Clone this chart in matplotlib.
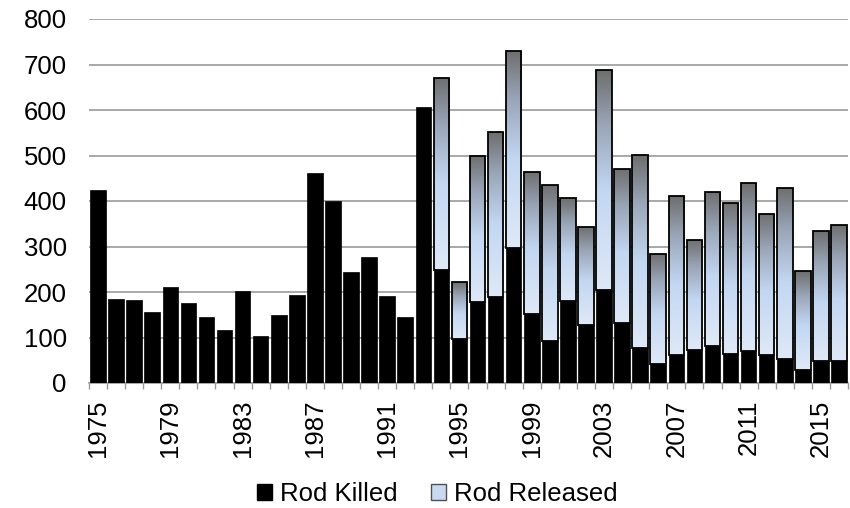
import numpy as np
import matplotlib
matplotlib.use("Agg")
import matplotlib.pyplot as plt
from matplotlib.colors import LinearSegmentedColormap
from matplotlib.patches import Rectangle

plt.rcParams['font.family'] = ['Liberation Sans', 'DejaVu Sans']

years = list(range(1975, 2017))
rod_killed = [425, 185, 182, 156, 210, 175, 145, 117, 203, 103, 150, 194, 462, 400,
              244, 278, 191, 145, 606, 248, 96, 177, 190, 296, 151, 92, 181, 127,
              205, 132, 78, 41, 61, 72, 81, 63, 70, 62, 53, 29, 49, 48]
rod_total = [425, 185, 182, 156, 210, 175, 145, 117, 203, 103, 150, 194, 462, 400,
             244, 278, 191, 145, 606, 670, 221, 499, 552, 729, 464, 435, 406, 343,
             688, 471, 502, 284, 410, 315, 420, 396, 439, 372, 429, 246, 333, 347]
rod_released = [t - k for t, k in zip(rod_total, rod_killed)]
tick_years = [1975, 1979, 1983, 1987, 1991, 1995, 1999, 2003, 2007, 2011, 2015]
series_names = ['Rod Killed', 'Rod Released']

fig = plt.figure(figsize=(8.5, 5.08), dpi=100)
ax = fig.add_axes([89/850, 1 - 383/508, (848-89)/850, (383-19)/508])

x = np.arange(len(years))
w = 0.86

cmap = LinearSegmentedColormap.from_list(
    'grad', [(0.0, '#dfe9f7'), (0.45, '#c3d7f2'), (0.75, '#9aa6b8'), (1.0, '#6e6e6e')])

ax.bar(x, rod_killed, width=w, color='black', edgecolor='black', linewidth=0.5, zorder=3)

grad = np.linspace(0, 1, 256).reshape(-1, 1)
rel_bars = ax.bar(x, rod_released, width=w, bottom=rod_killed, facecolor='none',
                  edgecolor='black', linewidth=1.3, zorder=4)
for xi, b, r, bar in zip(x, rod_killed, rod_released, rel_bars):
    if r <= 0:
        bar.set_visible(False)
        continue
    im = ax.imshow(grad, cmap=cmap, origin='lower', aspect='auto',
                   extent=[xi - w/2, xi + w/2, b, b + r], zorder=3.5,
                   interpolation='bilinear')
    im.set_clip_path(bar)

ax.set_xlim(-0.5, len(years) - 0.5)
ax.set_ylim(0, 800)
ax.set_yticks(np.arange(0, 801, 100))
ax.yaxis.grid(True, color='#9a9a9a', linewidth=1.2, zorder=0)
ax.set_axisbelow(True)

fs = 18.5
ax.set_xticks([years.index(y) for y in tick_years])
ax.set_xticklabels([str(y) for y in tick_years], rotation=90)
ax.set_xticks(np.arange(-0.5, len(years), 1), minor=True)
ax.tick_params(axis='x', which='major', length=0, pad=12, labelsize=fs)
ax.tick_params(axis='x', which='minor', length=4, color='#9a9a9a', width=1)
ax.tick_params(axis='y', length=0, pad=16, labelsize=fs)

for s in ['top', 'right', 'left']:
    ax.spines[s].set_visible(False)
ax.spines['bottom'].set_color('#9a9a9a')
ax.spines['bottom'].set_linewidth(1.2)

handles = [Rectangle((0, 0), 1, 1, facecolor='black', edgecolor='black'),
           Rectangle((0, 0), 1, 1, facecolor='#c9daf0', edgecolor='#505050', linewidth=1)]
fig.legend(handles, series_names, loc='center', bbox_to_anchor=(437/850, 1 - 494/508),
           ncol=2, frameon=False, fontsize=fs, handlelength=0.6, handleheight=0.6,
           handletextpad=0.3, columnspacing=1.3)

fig.savefig('out.png', dpi=100)
